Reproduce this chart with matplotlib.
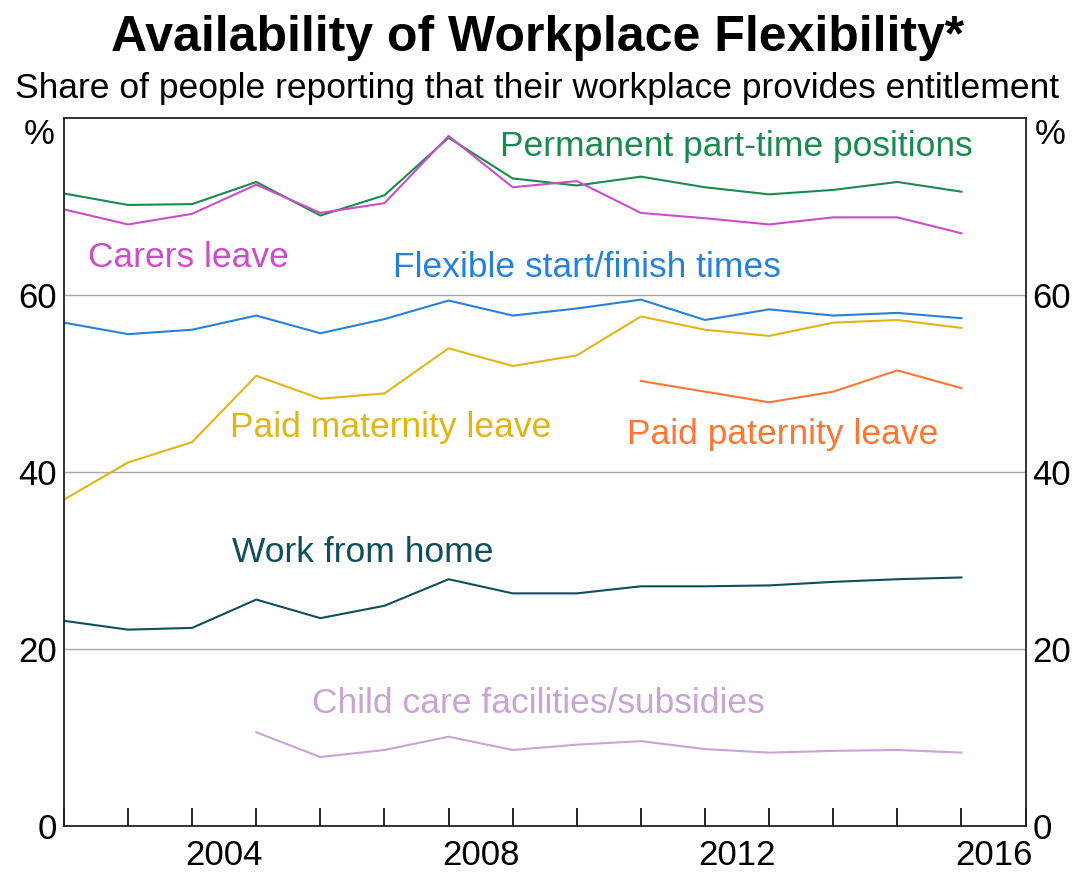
import matplotlib
matplotlib.use("Agg")
import matplotlib.pyplot as plt
import numpy as np

plt.rcParams['font.family'] = ['Liberation Sans', 'DejaVu Sans']

years = list(range(2002, 2017))
permanent_pt = [71.5, 70.2, 70.3, 72.8, 69.0, 71.3, 77.8, 73.2, 72.4, 73.4, 72.2, 71.4, 71.9, 72.8, 71.7]
carers = [69.7, 68.0, 69.2, 72.5, 69.3, 70.4, 78.0, 72.2, 72.9, 69.3, 68.7, 68.0, 68.8, 68.8, 67.0]
flexible = [56.9, 55.6, 56.1, 57.7, 55.7, 57.3, 59.4, 57.7, 58.5, 59.5, 57.2, 58.4, 57.7, 58.0, 57.4]
maternity = [36.9, 41.1, 43.4, 50.9, 48.3, 48.9, 54.0, 52.0, 53.2, 57.6, 56.1, 55.4, 56.9, 57.2, 56.3]
paternity_years = list(range(2011, 2017))
paternity = [50.3, 49.1, 47.9, 49.1, 51.5, 49.5]
wfh = [23.2, 22.2, 22.4, 25.6, 23.5, 24.9, 27.9, 26.3, 26.3, 27.1, 27.1, 27.2, 27.6, 27.9, 28.1]
childcare_years = list(range(2005, 2017))
childcare = [10.6, 7.8, 8.6, 10.1, 8.6, 9.2, 9.6, 8.7, 8.3, 8.5, 8.6, 8.3]

year_labels = [2004, 2008, 2012, 2016]
y_ticks = [0, 20, 40, 60]

c_green = '#1a8a50'
c_mag = '#cc4ccc'
c_blue = '#2582dc'
c_yel = '#e3b416'
c_orange = '#ff7633'
c_teal = '#0d4f5c'
c_purple = '#c9a3d3'

fig = plt.figure(figsize=(10.75, 8.76), dpi=100)
ax = fig.add_axes([0.0595, 0.057, 0.8945, 0.808])

lw = 1.5
ax.plot(years, permanent_pt, color=c_green, lw=lw)
ax.plot(years, carers, color=c_mag, lw=lw)
ax.plot(years, flexible, color=c_blue, lw=lw)
ax.plot(years, maternity, color=c_yel, lw=lw)
ax.plot(paternity_years, paternity, color=c_orange, lw=lw)
ax.plot(years, wfh, color=c_teal, lw=lw)
ax.plot(childcare_years, childcare, color=c_purple, lw=lw)

ax.set_xlim(2002, 2017)
ax.set_ylim(0, 80)

for g in [20, 40, 60]:
    ax.axhline(g, color='#a8a8a8', lw=1.0, zorder=0)

tick_fs = 25
ax.set_xticks(range(2002, 2018))
ax.set_xticks([y + 0.5 for y in year_labels], minor=True)
ax.set_xticklabels([])
ax.set_xticklabels([str(y) for y in year_labels], minor=True)
ax.tick_params(axis='x', which='major', direction='in', length=13, width=1.2, color='black', labelbottom=False)
ax.tick_params(axis='x', which='minor', length=0, labelsize=tick_fs, pad=9)

ax.set_yticks(y_ticks)
ax.tick_params(axis='y', which='both', length=0, labelsize=tick_fs, pad=5,
               left=True, right=True, labelleft=True, labelright=True)
for s in ax.spines.values():
    s.set_linewidth(1.3)
    s.set_color('#222222')

ax.text(-0.01, 78.2, '%', transform=ax.get_yaxis_transform(), ha='right', va='center', fontsize=tick_fs)
ax.text(1.01, 78.2, '%', transform=ax.get_yaxis_transform(), ha='left', va='center', fontsize=tick_fs)

fs = 25.5
ax.text(2008.8, 76.8, 'Permanent part-time positions', color=c_green, fontsize=fs, va='center')
ax.text(2002.37, 64.3, 'Carers leave', color=c_mag, fontsize=fs, va='center')
ax.text(2007.13, 63.1, 'Flexible start/finish times', color=c_blue, fontsize=fs, va='center')
ax.text(2004.59, 45.1, 'Paid maternity leave', color=c_yel, fontsize=fs, va='center')
ax.text(2010.78, 44.3, 'Paid paternity leave', color=c_orange, fontsize=fs, va='center')
ax.text(2004.62, 30.9, 'Work from home', color=c_teal, fontsize=fs, va='center')
ax.text(2005.87, 13.9, 'Child care facilities/subsidies', color=c_purple, fontsize=fs, va='center')

fig.text(0.5, 0.957, 'Availability of Workplace Flexibility*', ha='center', va='center',
         fontsize=36, fontweight='bold')
fig.text(0.5, 0.899, 'Share of people reporting that their workplace provides entitlement',
         ha='center', va='center', fontsize=25.5)

fig.savefig('out.png', dpi=100)
